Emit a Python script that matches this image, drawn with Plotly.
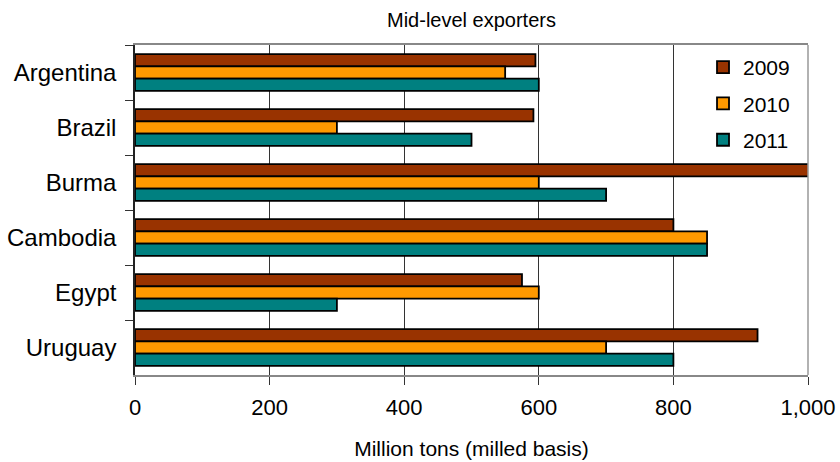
import plotly.graph_objects as go

countries = ["Argentina", "Brazil", "Burma", "Cambodia", "Egypt", "Uruguay"]
years = ["2009", "2010", "2011"]
v2009 = [595, 592, 1010, 800, 575, 925]
v2010 = [550, 300, 600, 850, 600, 700]
v2011 = [600, 500, 700, 850, 300, 800]
colors = ["#993300", "#FF9900", "#008080"]
x_ticks = [0, 200, 400, 600, 800, 1000]
x_tick_labels = ["0", "200", "400", "600", "800", "1,000"]

fig = go.Figure()
for name, vals, col in zip(years, [v2009, v2010, v2011], colors):
    fig.add_trace(go.Bar(
        y=countries, x=vals, name=name, orientation="h", legendgroup=name,
        marker=dict(color=col, line=dict(color="black", width=1.8)),
    ))

FONT = "Liberation Sans, Arial, sans-serif"
fig.update_layout(
    width=840, height=462,
    margin=dict(l=135, r=32, t=45, b=87),
    paper_bgcolor="white", plot_bgcolor="white",
    barmode="group", bargap=0.33, bargroupgap=0,
    font=dict(family=FONT, color="black"),
    title=dict(text="Mid-level exporters", x=0.5, xanchor="center", xref="paper",
               y=1 - 20 / 462, yanchor="middle", font=dict(size=20, family=FONT)),
    showlegend=True,
    legend=dict(x=0.844, y=0.994, xanchor="left", yanchor="top",
                font=dict(size=21), bgcolor="rgba(0,0,0,0)",
                tracegroupgap=6, itemwidth=30),
    xaxis=dict(range=[0, 1000], tickvals=x_ticks, ticktext=x_tick_labels,
               tickfont=dict(size=22), ticks="outside", ticklen=8,
               ticklabelstandoff=4,
               tickcolor="#333", showgrid=True, gridcolor="#333", gridwidth=1,
               showline=True, linecolor="#888", linewidth=1.5, mirror=True,
               zeroline=False, automargin=False,
               title=dict(text="Million tons (milled basis)", font=dict(size=21), standoff=22)),
    yaxis=dict(autorange="reversed", tickson="boundaries", ticks="outside",
               ticklen=8, tickcolor="#333", tickfont=dict(size=24),
               ticklabelstandoff=12, automargin=False,
               showline=True, linecolor="#222", linewidth=1.5,
               showgrid=False, zeroline=False),
)
fig.add_shape(type="line", xref="x domain", yref="y domain", x0=1, x1=1, y0=0, y1=1,
              line=dict(color="#999", width=1.5))
fig.write_html("out.html", post_script="document.body.style.margin='0';",
               config={"displayModeBar": False})
